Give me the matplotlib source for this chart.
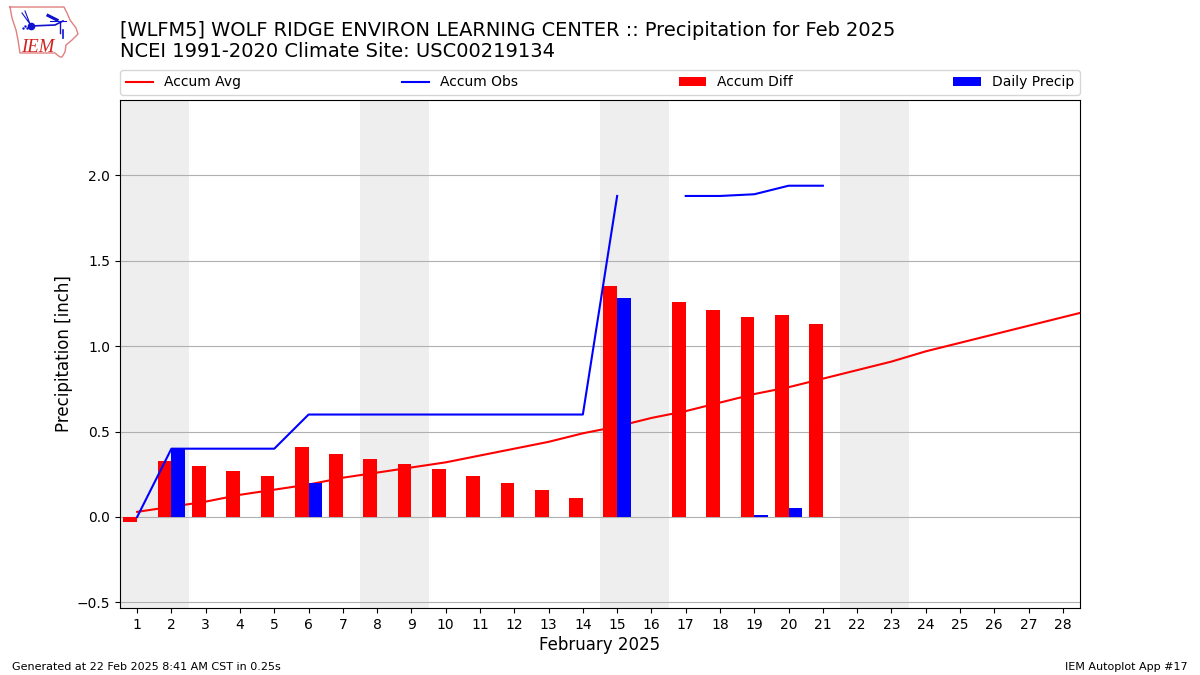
import numpy as np
import matplotlib
matplotlib.use('Agg')
import matplotlib.pyplot as plt

days = np.arange(1, 30)
accum_avg = [0.03, 0.06, 0.09, 0.13, 0.16, 0.19, 0.23, 0.26, 0.29, 0.32,
             0.36, 0.40, 0.44, 0.49, 0.53, 0.58, 0.62, 0.67, 0.72, 0.76,
             0.81, 0.86, 0.91, 0.97, 1.02, 1.07, 1.12, 1.17, 1.22]
obs_days = np.arange(1, 22)
accum_obs = [0.0, 0.40, 0.40, 0.40, 0.40, 0.60, 0.60, 0.60, 0.60, 0.60, 0.60,
             0.60, 0.60, 0.60, 1.88, np.nan, 1.88, 1.88, 1.89, 1.94, 1.94]
accum_diff = [-0.03, 0.33, 0.30, 0.27, 0.24, 0.41, 0.37, 0.34, 0.31, 0.28, 0.24,
              0.20, 0.16, 0.11, 1.35, np.nan, 1.26, 1.21, 1.17, 1.18, 1.13]
daily_precip = [0, 0.40, 0, 0, 0, 0.20, 0, 0, 0, 0, 0,
                0, 0, 0, 1.28, 0, 0, 0, 0.01, 0.05, 0]
weekends = [(0.5, 2.5), (7.5, 9.5), (14.5, 16.5), (21.5, 23.5)]
yticks = [-0.5, 0.0, 0.5, 1.0, 1.5, 2.0]

# logo outline, in pixels of the logo box
iowa_x = [10, 64, 67, 70, 76, 78, 72, 66, 65, 62, 60, 55, 20, 18, 16, 12, 10]
iowa_y = [7, 7, 13, 20, 28, 34, 40, 45, 52, 57, 57, 53, 53, 40, 30, 18, 7]

fig = plt.figure(figsize=(12, 6.75), dpi=100)
ax = fig.add_axes([120 / 1200, 1 - 608 / 675, 960 / 1200, 508 / 675])

for start, end in weekends:
    ax.axvspan(start, end, color='#EEEEEE', lw=0, zorder=0)

ax.plot(days, accum_avg, color='r', label='Accum Avg', zorder=0.9)
ax.plot(obs_days, accum_obs, color='b', label='Accum Obs', zorder=3)
ax.bar(obs_days, accum_diff, width=-0.4, align='edge', color='r', label='Accum Diff')
ax.bar(obs_days, daily_precip, width=0.4, align='edge', color='b', label='Daily Precip')

ax.set_xlim(0.5, 28.5)
ax.set_ylim(-0.533, 2.442)
ax.set_xticks(np.arange(1, 29))
ax.set_yticks(yticks)
ax.set_axisbelow(True)
ax.grid(axis='y', color='#b0b0b0')
ax.set_xlabel('February 2025', fontsize=12, labelpad=3)
ax.set_ylabel('Precipitation [inch]', fontsize=12, labelpad=3)
ax.legend(loc='lower left', bbox_to_anchor=(0, 1.01, 1, 0.05), ncol=4,
          mode='expand', borderaxespad=0, fontsize=10)

fig.text(120 / 1200, 1 - 36 / 675,
         '[WLFM5] WOLF RIDGE ENVIRON LEARNING CENTER :: Precipitation for Feb 2025',
         fontsize=13.98, va='baseline')
fig.text(120 / 1200, 1 - 57 / 675, 'NCEI 1991-2020 Climate Site: USC00219134',
         fontsize=14, va='baseline')
fig.text(12 / 1200, 1 - 670 / 675, 'Generated at 22 Feb 2025 8:41 AM CST in 0.25s',
         fontsize=8, va='baseline')
fig.text(1188 / 1200, 1 - 670 / 675, 'IEM Autoplot App #17', fontsize=8,
         ha='right', va='baseline')

# small IEM logo
logo = fig.add_axes([0, 1 - 65 / 675, 90 / 1200, 65 / 675])
logo.set_xlim(0, 90)
logo.set_ylim(65, 0)
logo.axis('off')
logo.plot(iowa_x, iowa_y, color='#e08080', lw=1)
logo.plot([31, 55, 63], [26, 25, 21], color='#1010d0', lw=1.2)
logo.plot([31], [26], 'o', color='#1010d0', ms=4.5)
logo.plot([48, 57], [15.5, 20], color='#1010d0', lw=2.2)
logo.plot([50, 66], [21, 21], color='#1010d0', lw=0.8)
logo.plot([60, 60], [22, 33], color='#1010d0', lw=1)
logo.plot([63, 63], [30, 38], color='#1010d0', lw=1.2)
logo.plot([22, 30, 25], [13, 24, 11], color='#1010d0', lw=0.8)
logo.plot([23, 25, 27], [28, 26, 28], '.', color='#1010d0', ms=1.5)
logo.text(21, 52, 'IEM', color='#d02020', fontsize=13.5, family='Liberation Serif',
          style='italic', va='baseline')

fig.savefig('out.png', dpi=100)
